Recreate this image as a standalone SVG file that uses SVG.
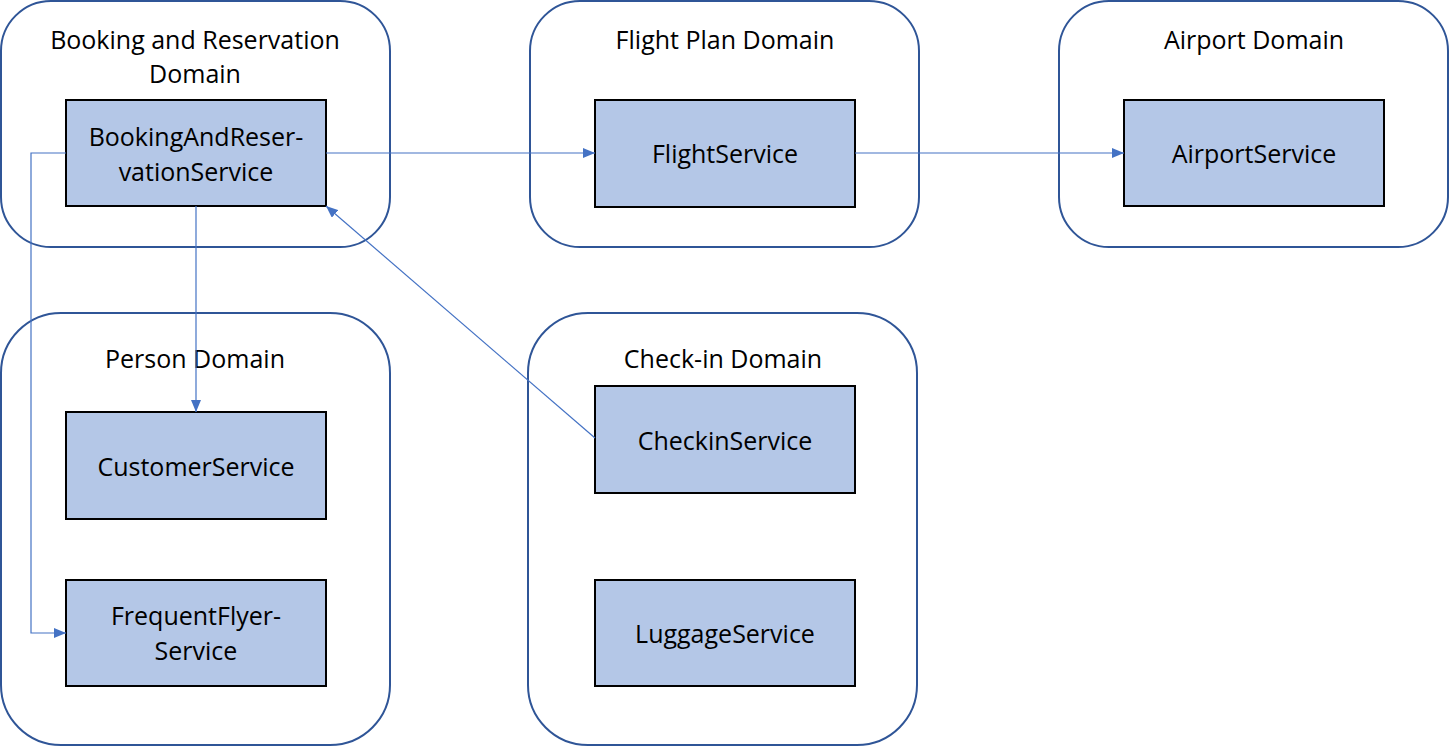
<svg xmlns="http://www.w3.org/2000/svg" width="1450" height="746" viewBox="0 0 1450 746">
<defs>
<style>
.domain{fill:#fff;stroke:#2F5597;stroke-width:2}
.svc{fill:#B4C7E7;stroke:#000;stroke-width:2}
.t{font-family:"Open Sans","Noto Sans",sans-serif;font-size:25px;fill:#000;text-anchor:middle}
.c{fill:none;stroke:#4472C4;stroke-width:1.2}
</style>
<marker id="ah" viewBox="0 0 12 10" refX="12" refY="5" markerWidth="12" markerHeight="10" markerUnits="userSpaceOnUse" orient="auto">
<path d="M0,0 L12,5 L0,10 z" fill="#4472C4"/>
</marker>
</defs>
<rect width="1450" height="746" fill="#fff"/>
<g id="booking-domain">
<rect class="domain" x="1" y="1" width="389" height="246" rx="50" ry="50"/>
<text class="t" x="195" y="49">Booking and Reservation</text>
<text class="t" x="195" y="83">Domain</text>
</g>
<g id="flightplan-domain">
<rect class="domain" x="530" y="1" width="389" height="246" rx="50" ry="50"/>
<text class="t" x="725" y="49">Flight Plan Domain</text>
</g>
<g id="airport-domain">
<rect class="domain" x="1059" y="1" width="389" height="246" rx="50" ry="50"/>
<text class="t" x="1254" y="49">Airport Domain</text>
</g>
<g id="person-domain">
<rect class="domain" x="1" y="313" width="389" height="432" rx="60" ry="60"/>
<text class="t" x="195" y="368">Person Domain</text>
</g>
<g id="checkin-domain">
<rect class="domain" x="528" y="313" width="389" height="432" rx="60" ry="60"/>
<text class="t" x="723" y="368">Check-in Domain</text>
</g>
<g id="booking-service">
<rect class="svc" x="66" y="100" width="260" height="106"/>
<text class="t" x="196" y="146">BookingAndReser-</text>
<text class="t" x="196" y="181">vationService</text>
</g>
<g id="flight-service">
<rect class="svc" x="595" y="100" width="260" height="107"/>
<text class="t" x="725" y="163">FlightService</text>
</g>
<g id="airport-service">
<rect class="svc" x="1124" y="100" width="260" height="106"/>
<text class="t" x="1254" y="163">AirportService</text>
</g>
<g id="customer-service">
<rect class="svc" x="66" y="412" width="260" height="107"/>
<text class="t" x="196" y="476">CustomerService</text>
</g>
<g id="frequentflyer-service">
<rect class="svc" x="66" y="580" width="260" height="106"/>
<text class="t" x="196" y="625">FrequentFlyer-</text>
<text class="t" x="196" y="660">Service</text>
</g>
<g id="checkin-service">
<rect class="svc" x="595" y="386" width="260" height="107"/>
<text class="t" x="725" y="450">CheckinService</text>
</g>
<g id="luggage-service">
<rect class="svc" x="595" y="580" width="260" height="106"/>
<text class="t" x="725" y="643">LuggageService</text>
</g>
<g id="connectors">
<path class="c" d="M326,153 L595,153" marker-end="url(#ah)"/>
<path class="c" d="M855,153 L1124,153" marker-end="url(#ah)"/>
<path class="c" d="M196,206 L196,412" marker-end="url(#ah)"/>
<path class="c" d="M66,153 L31,153 L31,633 L66,633" marker-end="url(#ah)"/>
<path class="c" d="M595,438 L326,206" marker-end="url(#ah)"/>
</g>
</svg>
